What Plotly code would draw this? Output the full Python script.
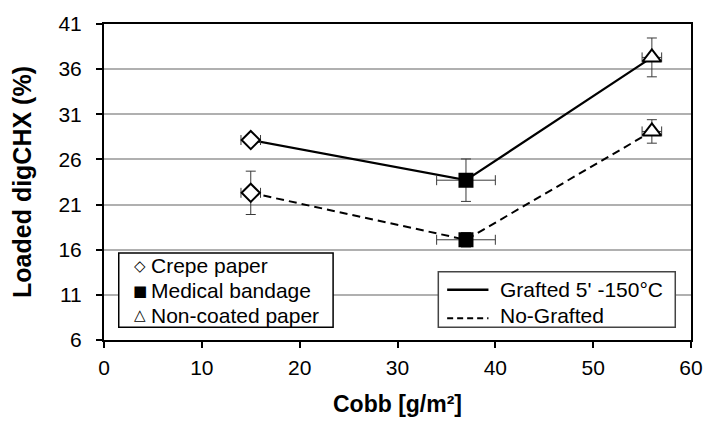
import plotly.graph_objects as go

# Cobb values of the three substrates
cobb = [15, 37, 56]
cobb_err = [1, 3, 1]
materials = ["Crepe paper", "Medical bandage", "Non-coated paper"]
treatments = ["Grafted 5' -150°C", "No-Grafted"]

# Loaded digCHX (%) for each treatment
grafted = [28.15, 23.7, 37.3]
grafted_err = [0.4, 2.35, 2.15]
no_grafted = [22.3, 17.1, 29.1]
no_grafted_err = [2.4, 0.8, 1.3]

# marker per material
symbols = ["diamond", "square", "triangle-up"]
fills = ["white", "black", "white"]
sizes = [14, 13, 16]
legend_glyphs = ["◇", "■", "△"]

W, H = 715, 425
ML, MR, MT, MB = 104, 14, 21, 84
PW, PH = W - ML - MR, H - MT - MB


def px(x):
    """pixel column -> paper x"""
    return (x - ML) / PW


def py(y):
    """pixel row -> paper y"""
    return (H - MB - y) / PH


fig = go.Figure()

line_styles = [dict(color="black", width=2.2), dict(color="black", width=2, dash="8px,5px")]
for series, name, ls in zip((grafted, no_grafted), treatments, line_styles):
    fig.add_trace(go.Scatter(x=cobb, y=series, mode="lines", name=name, line=ls, showlegend=False))

err_style = dict(color="#3a3a3a", thickness=1, width=5)

# data points with error bars
for i in range(len(cobb)):
    for series, serr in ((grafted, grafted_err), (no_grafted, no_grafted_err)):
        fig.add_trace(go.Scatter(
            x=[cobb[i]], y=[series[i]], mode="markers", showlegend=False, name=materials[i],
            marker=dict(symbol=symbols[i], size=sizes[i], color=fills[i],
                        line=dict(color="black", width=2)),
            error_x=dict(type="data", array=[cobb_err[i]], **err_style),
            error_y=dict(type="data", array=[serr[i]], **err_style),
        ))

font = "Liberation Sans, Arial, sans-serif"
shapes = []
annotations = []

# material key (boxed, lower left)
shapes.append(dict(type="rect", xref="paper", yref="paper",
                   x0=px(119), x1=px(337), y0=py(328), y1=py(253),
                   line=dict(color="black", width=1.5), fillcolor="white", layer="above"))
for k, (glyph, name) in enumerate(zip(legend_glyphs, materials)):
    row = 266 + 25 * k
    annotations.append(dict(xref="paper", yref="paper", x=px(141), y=py(row), text=glyph,
                            showarrow=False, xanchor="center", yanchor="middle",
                            font=dict(family="DejaVu Sans", size=15, color="black")))
    annotations.append(dict(xref="paper", yref="paper", x=px(150), y=py(row), text=name,
                            showarrow=False, xanchor="left", yanchor="middle",
                            font=dict(family=font, size=21, color="black")))

# treatment key (boxed, lower right)
shapes.append(dict(type="rect", xref="paper", yref="paper",
                   x0=px(444), x1=px(685), y0=py(328), y1=py(272),
                   line=dict(color="#444444", width=1.5), fillcolor="white", layer="above"))
key_rows = [290, 316]
key_offsets = [0, 3]
key_lines = [dict(color="black", width=2.5), dict(color="black", width=2, dash="6px,4px")]
for name, row, off, ls in zip(treatments, key_rows, key_offsets, key_lines):
    shapes.append(dict(type="line", xref="paper", yref="paper",
                       x0=px(453), x1=px(495), y0=py(row + off), y1=py(row + off),
                       line=ls, layer="above"))
    annotations.append(dict(xref="paper", yref="paper", x=px(505), y=py(row), text=name,
                            showarrow=False, xanchor="left", yanchor="middle",
                            font=dict(family=font, size=21, color="black")))

fig.update_layout(
    width=W, height=H,
    margin=dict(l=ML, r=MR, t=MT, b=MB),
    paper_bgcolor="white", plot_bgcolor="white",
    font=dict(family=font, size=21, color="black"),
    showlegend=False,
    shapes=shapes, annotations=annotations,
)
fig.update_xaxes(range=[0, 60], tickvals=[0, 10, 20, 30, 40, 50, 60],
                 showgrid=False, zeroline=False,
                 showline=True, linecolor="black", linewidth=2, mirror=True,
                 ticks="outside", ticklen=6, tickcolor="black", tickwidth=1.5,
                 tickfont=dict(size=21), ticklabelstandoff=2,
                 title=dict(text="<b>Cobb [g/m²]</b>", font=dict(size=23), standoff=18))
fig.update_yaxes(range=[6, 41], tickvals=[6, 11, 16, 21, 26, 31, 36, 41],
                 showgrid=True, gridcolor="#b0b0b0", gridwidth=1.5, zeroline=False,
                 showline=True, linecolor="black", linewidth=2, mirror=True,
                 ticks="outside", ticklen=6, tickcolor="black", tickwidth=1.5,
                 tickfont=dict(size=21), ticklabelstandoff=10,
                 title=dict(text="<b>Loaded digCHX (%)</b>", font=dict(size=25), standoff=20))

fig.write_html("out.html")
